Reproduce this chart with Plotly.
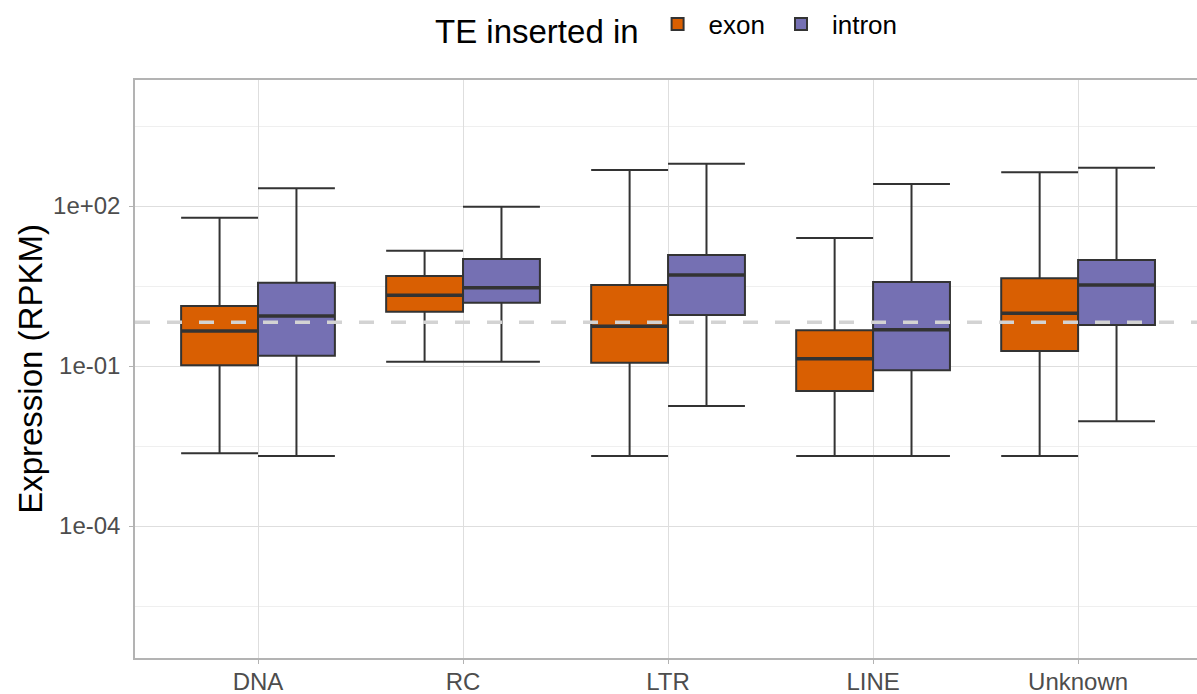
import plotly.graph_objects as go

categories = ["DNA", "RC", "LTR", "LINE", "Unknown"]
groups = ["exon", "intron"]
colors = {"exon": "#D95F02", "intron": "#7570B3"}

# box statistics (RPKM)
exon_low = [0.00231, 0.1205, 0.00205, 0.00205, 0.00205]
exon_q1 = [0.103, 1.04, 0.115, 0.034, 0.191]
exon_med = [0.453, 2.12, 0.555, 0.137, 0.973]
exon_q3 = [1.33, 4.87, 3.30, 0.467, 4.41]
exon_high = [60.4, 14.5, 473.0, 25.1, 428.5]

intron_low = [0.00205, 0.1205, 0.0178, 0.00205, 0.00918]
intron_q1 = [0.156, 1.54, 0.904, 0.083, 0.587]
intron_med = [0.866, 2.94, 5.08, 0.48, 3.30]
intron_q3 = [3.65, 10.1, 12.05, 3.76, 9.72]
intron_high = [214.8, 97.0, 621.0, 258.5, 522.0]

overall_median = 0.66

y_tickvals = [1e-4, 1e-1, 1e2]
y_ticktext = ["1e-04", "1e-01", "1e+02"]
y_minor = [10 ** -5.5, 10 ** -2.5, 10 ** 0.5, 10 ** 3.5]

stats = {
    "exon": (exon_low, exon_q1, exon_med, exon_q3, exon_high),
    "intron": (intron_low, intron_q1, intron_med, intron_q3, intron_high),
}

dodge = 0.375
offsets = {"exon": -dodge / 2, "intron": dodge / 2}
LINE = "#333333"
FONT = "Liberation Sans, Arial, sans-serif"

fig = go.Figure()
for g in groups:
    low, q1, med, q3, high = stats[g]
    xs = [i + offsets[g] for i in range(len(categories))]
    fig.add_trace(go.Box(
        name=g, x=xs, q1=q1, median=med, q3=q3,
        lowerfence=low, upperfence=high,
        width=dodge, whiskerwidth=1,
        fillcolor=colors[g], line=dict(color=LINE, width=2),
        boxpoints=False, showlegend=True,
    ))

# dashed reference line
fig.add_trace(go.Scatter(
    x=[-0.6, len(categories) - 0.4], y=[overall_median, overall_median],
    mode="lines", line=dict(color="#D3D3D3", width=3.5, dash="15px,17px"),
    showlegend=False, hoverinfo="skip",
))

# thick median lines
for g in groups:
    med = stats[g][2]
    mx, my = [], []
    for i, m in enumerate(med):
        c = i + offsets[g]
        mx += [c - dodge / 2, c + dodge / 2, None]
        my += [m, m, None]
    fig.add_trace(go.Scatter(x=mx, y=my, mode="lines",
                             line=dict(color=LINE, width=3.5),
                             showlegend=False, hoverinfo="skip"))

fig.update_layout(
    width=1197, height=694, autosize=False,
    margin=dict(l=135, r=0, t=80, b=36, autoexpand=False),
    plot_bgcolor="white", paper_bgcolor="white",
    font=dict(family=FONT, size=24, color="black"),
    boxmode="overlay",
    legend=dict(
        orientation="h", xref="container", yref="container",
        x=668 / 1197, xanchor="center", y=1 - 27 / 694, yanchor="middle",
        title=dict(text="TE inserted in", font=dict(size=33, family=FONT)),
        font=dict(size=26, family=FONT),
        itemwidth=52,
    ),
)

fig.update_xaxes(
    range=[-0.6, 4.58], automargin=False,
    tickvals=list(range(len(categories))), ticktext=categories,
    tickfont=dict(size=24, color="#4D4D4D", family=FONT),
    ticks="outside", ticklen=4, tickcolor="#B3B3B3",
    ticklabelstandoff=-3,
    showgrid=True, gridcolor="#DEDEDE", gridwidth=1,
    showline=True, linecolor="#B3B3B3", linewidth=1.5, mirror=True,
    zeroline=False,
)
fig.update_yaxes(
    type="log", range=[-6.475, 4.3625], automargin=False,
    tickvals=y_tickvals, ticktext=y_ticktext,
    tickfont=dict(size=24, color="#4D4D4D", family=FONT),
    ticks="outside", ticklen=4, tickcolor="#B3B3B3",
    ticklabelstandoff=4,
    showgrid=True, gridcolor="#DEDEDE", gridwidth=1,
    minor=dict(tickvals=y_minor, showgrid=True, gridcolor="#EFEFEF", gridwidth=1, ticks=""),
    showline=True, linecolor="#B3B3B3", linewidth=1.5, mirror=True,
    zeroline=False,
    title=dict(text="Expression (RPKM)", font=dict(size=33, family=FONT, color="black"), standoff=0),
)

post = (
    "document.body.style.margin='0';"
    "document.body.style.overflow='hidden';"
    "Plotly.relayout('{plot_id}', {width: 1197, height: 694});"
)
fig.write_html("out.html", config={"responsive": False, "displayModeBar": False}, post_script=post)
